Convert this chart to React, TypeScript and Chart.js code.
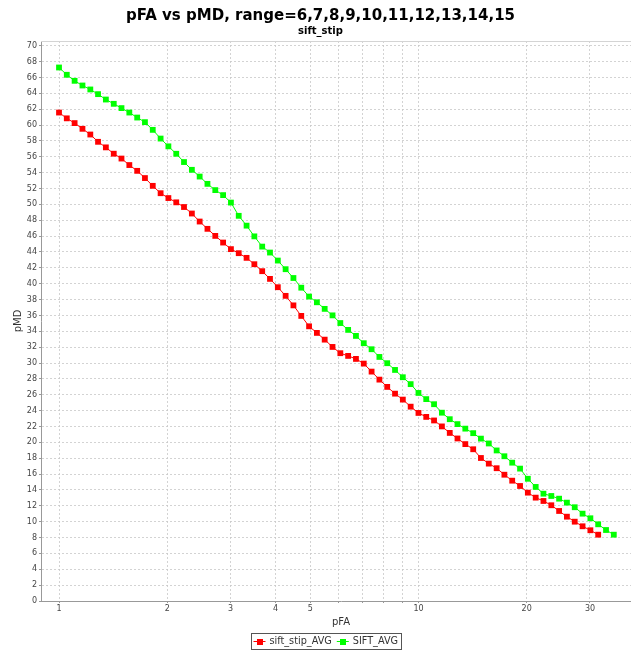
import React, { useEffect, useRef } from 'react';
import { Chart, registerables } from 'chart.js';

Chart.register(...registerables);

const TITLE = 'pFA vs pMD, range=6,7,8,9,10,11,12,13,14,15';
const SUBTITLE = 'sift_stip';
const X_TITLE = 'pFA';
const Y_TITLE = 'pMD';
const SERIES_NAMES = ['sift_stip_AVG', 'SIFT_AVG'];
const SERIES_COLORS = ['#ff0000', '#00ff00'];

// pFA (x) values shared by both series
const pFA = [
  1.000, 1.051, 1.105, 1.162, 1.222, 1.284, 1.350, 1.420, 1.492, 1.569,
  1.650, 1.734, 1.823, 1.917, 2.015, 2.119, 2.227, 2.342, 2.462, 2.588,
  2.721, 2.861, 3.008, 3.162, 3.325, 3.495, 3.675, 3.863, 4.062, 4.270,
  4.489, 4.720, 4.962, 5.217, 5.484, 5.766, 6.062, 6.373, 6.700, 7.044,
  7.406, 7.786, 8.186, 8.606, 9.047, 9.512, 10.00, 10.51, 11.05, 11.62,
  12.22, 12.84, 13.50, 14.20, 14.92, 15.69, 16.50, 17.34, 18.23, 19.17,
  20.15, 21.19, 22.27, 23.42, 24.62, 25.88, 27.21, 28.61, 30.08, 31.62,
  33.25, 34.95,
];

// pMD for sift_stip_AVG (70 points)
const siftStipAvg = [
  61.58, 60.85, 60.25, 59.53, 58.81, 57.89, 57.19, 56.39, 55.78, 54.96,
  54.23, 53.32, 52.34, 51.41, 50.80, 50.26, 49.67, 48.85, 47.84, 46.92,
  46.03, 45.19, 44.36, 43.85, 43.26, 42.46, 41.58, 40.61, 39.56, 38.47,
  37.27, 35.94, 34.63, 33.80, 32.95, 32.03, 31.24, 30.90, 30.52, 29.93,
  28.92, 27.91, 26.99, 26.14, 25.39, 24.50, 23.71, 23.21, 22.76, 22.01,
  21.19, 20.49, 19.78, 19.13, 18.03, 17.32, 16.74, 15.92, 15.17, 14.50,
  13.66, 13.03, 12.61, 12.07, 11.35, 10.63, 10.00, 9.42, 8.92, 8.36,
];

// pMD for SIFT_AVG (72 points)
const siftAvg = [
  67.26, 66.34, 65.58, 64.99, 64.49, 63.90, 63.22, 62.68, 62.14, 61.58,
  60.95, 60.37, 59.40, 58.30, 57.32, 56.38, 55.34, 54.36, 53.51, 52.59,
  51.80, 51.17, 50.23, 48.56, 47.32, 45.97, 44.68, 43.93, 42.92, 41.83,
  40.72, 39.50, 38.38, 37.66, 36.83, 36.01, 35.04, 34.18, 33.42, 32.50,
  31.74, 30.77, 29.98, 29.13, 28.21, 27.34, 26.23, 25.45, 24.81, 23.74,
  22.92, 22.30, 21.73, 21.16, 20.47, 19.86, 18.98, 18.25, 17.44, 16.69,
  15.41, 14.38, 13.53, 13.24, 12.90, 12.40, 11.82, 11.01, 10.43, 9.67,
  8.95, 8.36,
];

const xTickValues = [1, 2, 3, 4, 5, 6, 7, 8, 9, 10, 20, 30];
const xTickLabels = ['1', '2', '3', '4', '5', '', '', '', '', '10', '20', '30'];
const X_MIN = 0.891;
const X_MAX = 41.6;
const Y_MIN = 0;
const Y_MAX = 70.6;
const Y_STEP = 2;

const FONT = 'DejaVu Sans';

const frameLegendPlugin = {
  id: 'frameLegend',
  afterDraw(chart: any) {
    const ctx = chart.ctx;
    const area = chart.chartArea;
    ctx.save();
    // top border of plot
    ctx.strokeStyle = '#d4d4d4';
    ctx.lineWidth = 1;
    ctx.beginPath();
    ctx.moveTo(area.left, area.top + 0.5);
    ctx.lineTo(area.right, area.top + 0.5);
    ctx.stroke();

    // legend box
    ctx.font = `9.7px "${FONT}"`;
    const items = chart.data.datasets.map((ds: any) => ({ label: ds.label, color: ds.borderColor }));
    const widths = items.map((it: any) => ctx.measureText(it.label).width);
    const padL = 2, lineW = 12, gap = 4, itemGap = 5, padR = 3;
    let total = padL + padR + itemGap * (items.length - 1);
    items.forEach((_: any, i: number) => { total += lineW + gap + widths[i]; });
    const left = Math.round(chart.width / 2 - total / 2);
    const top = 633;
    const h = 16;
    ctx.strokeStyle = '#555555';
    ctx.strokeRect(left + 0.5, top + 0.5, Math.round(total), h);
    let x = left + padL + 0.5;
    const cy = top + h / 2 + 0.5;
    items.forEach((it: any, i: number) => {
      ctx.strokeStyle = it.color;
      ctx.lineWidth = 1;
      ctx.beginPath();
      ctx.moveTo(x, cy);
      ctx.lineTo(x + lineW, cy);
      ctx.stroke();
      ctx.fillStyle = it.color;
      ctx.fillRect(Math.round(x + lineW / 2 - 3), Math.round(cy - 3), 6, 6);
      x += lineW + gap;
      ctx.fillStyle = '#333333';
      ctx.textBaseline = 'middle';
      ctx.textAlign = 'left';
      ctx.fillText(it.label, x, cy);
      x += widths[i] + itemGap;
    });
    ctx.restore();
  },
};

export default function App() {
  const canvasRef = useRef<HTMLCanvasElement | null>(null);

  useEffect(() => {
    const canvas = canvasRef.current;
    if (!canvas) return;
    Chart.defaults.font.family = FONT;

    const series = [siftStipAvg, siftAvg];
    const datasets = series.map((vals, i) => ({
      label: SERIES_NAMES[i],
      data: vals.map((v, j) => ({ x: pFA[j], y: v })),
      borderColor: SERIES_COLORS[i],
      backgroundColor: SERIES_COLORS[i],
      borderWidth: 1,
      pointStyle: 'rect' as const,
      pointRadius: 4.1,
      pointBorderWidth: 0,
      pointBackgroundColor: SERIES_COLORS[i],
      tension: 0,
      fill: false,
    }));

    const chart = new Chart(canvas, {
      type: 'line',
      data: { datasets },
      plugins: [frameLegendPlugin],
      options: {
        animation: false,
        responsive: false,
        devicePixelRatio: 1,
        events: [],
        layout: { padding: { left: 0, right: 10, top: 0, bottom: 19 } },
        plugins: {
          legend: { display: false },
          tooltip: { enabled: false },
          title: {
            display: true,
            text: TITLE,
            color: '#000000',
            font: { family: FONT, size: 15, weight: 'bold' },
            padding: { top: 7, bottom: 0 },
          },
          subtitle: {
            display: true,
            text: SUBTITLE,
            color: '#000000',
            font: { family: FONT, size: 10, weight: 'bold' },
            padding: { top: 0, bottom: 4 },
          },
        },
        scales: {
          x: {
            type: 'logarithmic',
            min: X_MIN,
            max: X_MAX,
            afterFit: (scale: any) => { scale.height = 30; },
            afterBuildTicks: (scale: any) => {
              scale.ticks = xTickValues.map((v) => ({ value: v }));
            },
            ticks: {
              autoSkip: false,
              maxRotation: 0,
              padding: 1,
              color: '#444444',
              font: { family: FONT, size: 8 },
              callback: (value: any) => {
                const idx = xTickValues.indexOf(Number(value));
                return idx >= 0 ? xTickLabels[idx] : '';
              },
            },
            grid: {
              color: 'rgba(200,200,200,0.8)',
              lineWidth: 1,
              tickLength: 2,
              tickColor: '#999999',
              tickBorderDash: [],
            },
            border: { display: true, color: '#999999', width: 1, dash: [2, 2] },
            title: {
              display: true,
              text: X_TITLE,
              color: '#333333',
              font: { family: FONT, size: 10 },
              padding: { top: 0, bottom: 3 },
            },
          },
          y: {
            type: 'linear',
            min: Y_MIN,
            max: Y_MAX,
            afterFit: (scale: any) => { scale.width = 41; },
            ticks: {
              stepSize: Y_STEP,
              includeBounds: false,
              autoSkip: false,
              padding: 2,
              color: '#444444',
              font: { family: FONT, size: 8 },
            },
            grid: {
              color: 'rgba(200,200,200,0.8)',
              lineWidth: 1,
              tickLength: 2,
              tickColor: '#999999',
            },
            border: { display: true, color: '#999999', width: 1, dash: [2, 2] },
            title: {
              display: true,
              text: Y_TITLE,
              color: '#333333',
              font: { family: FONT, size: 10 },
              padding: { top: 12, bottom: 0 },
            },
          },
        },
      },
    } as any);

    return () => chart.destroy();
  }, []);

  return (
    <div style={{ position: 'fixed', left: 0, top: 0, width: 631, height: 650, overflow: 'hidden', background: '#ffffff' }}>
      <canvas ref={canvasRef} width={651} height={650} style={{ display: 'block', width: 651, height: 650 }} />
    </div>
  );
}
